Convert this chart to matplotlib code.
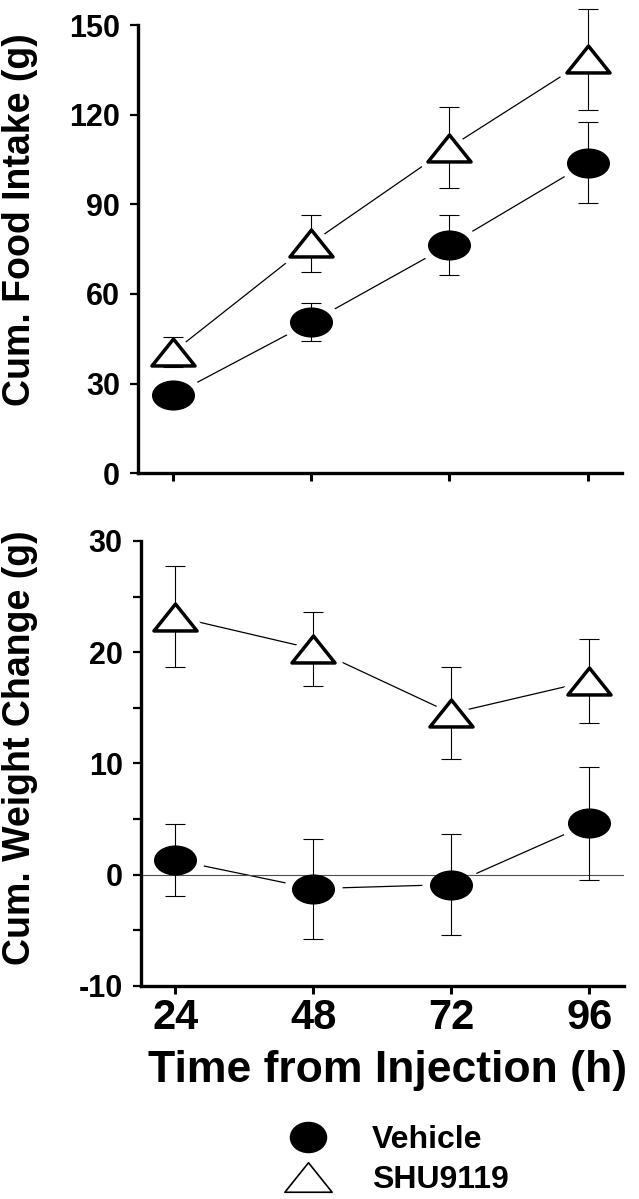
import numpy as np
import matplotlib.pyplot as plt
from matplotlib.path import Path
from matplotlib.lines import Line2D

plt.rcParams['font.family'] = ['Liberation Sans', 'DejaVu Sans']
plt.rcParams['font.weight'] = 'bold'
plt.rcParams['axes.unicode_minus'] = False

# data
hours = [24, 48, 72, 96]
food_vehicle = [26.1, 50.6, 76.4, 103.9]
food_vehicle_err = [3.0, 6.5, 10.0, 13.5]
food_shu = [40.5, 77.0, 109.0, 138.5]
food_shu_err = [5.0, 9.5, 13.5, 16.8]
weight_vehicle = [1.3, -1.27, -0.9, 4.6]
weight_vehicle_err = [3.2, 4.5, 4.5, 5.05]
weight_shu = [23.2, 20.3, 14.5, 17.4]
weight_shu_err = [4.55, 3.3, 4.15, 3.75]

# marker shapes: flat ellipse and flat triangle
circ = Path.unit_circle()
ellipse = Path(circ.vertices * [1.43, 1.0], circ.codes)
tri = Path([(0, 1), (-1.6, -1), (1.6, -1), (0, 1)],
           [Path.MOVETO, Path.LINETO, Path.LINETO, Path.CLOSEPOLY])
leg_ellipse = Path(circ.vertices * [1.19, 1.0], circ.codes)


def draw(ax, veh, veh_err, shu, shu_err):
    for y, e, mk, fc, mew in [(veh, veh_err, ellipse, 'black', 0),
                              (shu, shu_err, tri, 'white', 2.5)]:
        ax.plot(hours, y, color='black', lw=0.9, zorder=1)
        # white halo so lines stop short of the symbols
        ax.plot(hours, y, ls='none', marker=mk, ms=31, mfc='white',
                mec='white', mew=11, zorder=2)
        eb = ax.errorbar(hours, y, yerr=e, fmt='none', ecolor='black',
                         elinewidth=0.8, capsize=7, capthick=0.8, zorder=3)
        for art in eb.lines[1] + eb.lines[2]:
            art.set_clip_on(False)
        ax.plot(hours, y, ls='none', marker=mk, ms=31, mfc=fc,
                mec='black', mew=mew, zorder=4, clip_on=False)


def style(ax):
    for s in ['top', 'right']:
        ax.spines[s].set_visible(False)
    for s in ['left', 'bottom']:
        ax.spines[s].set_linewidth(2.4)
    ax.set_xlim(18, 102)
    ax.set_xticks(hours)
    ax.tick_params(axis='y', which='both', direction='out', length=6,
                   width=1.6, pad=7, labelsize=22)
    ax.tick_params(axis='x', direction='out', length=6, width=2.2,
                   pad=3, labelsize=30)


fig = plt.figure(figsize=(6.39, 11.99), dpi=100)
ax1 = fig.add_axes([0.2164, 0.6053, 0.7575, 0.3738])
ax2 = fig.add_axes([0.2202, 0.1779, 0.7563, 0.3709])

draw(ax1, food_vehicle, food_vehicle_err, food_shu, food_shu_err)
style(ax1)
ax1.set_ylim(0, 150)
ax1.set_yticks([0, 30, 60, 90, 120, 150])
ax1.set_xticklabels([])

ax2.axhline(0, color='0.3', lw=0.8, zorder=2.5)
draw(ax2, weight_vehicle, weight_vehicle_err, weight_shu, weight_shu_err)
style(ax2)
ax2.set_ylim(-10, 30)
ax2.set_yticks([-10, 0, 10, 20, 30])
ax2.set_yticks([-5, 5, 15, 25], minor=True)

fig.text(0.032, 0.8165, 'Cum. Food Intake (g)', rotation=90,
         ha='center', va='center', fontsize=27, fontweight='bold')
fig.text(0.032, 0.376, 'Cum. Weight Change (g)', rotation=90,
         ha='center', va='center', fontsize=27, fontweight='bold')
fig.text(0.606, 0.0976, 'Time from Injection (h)', ha='center',
         va='baseline', fontsize=32, fontweight='bold')

handles = [Line2D([], [], ls='none', marker=leg_ellipse, ms=27,
                  mfc='black', mec='black', mew=0),
           Line2D([], [], ls='none', marker=tri, ms=34, mfc='white',
                  mec='black', mew=1.2)]
fig.legend(handles, ['Vehicle', 'SHU9119'], loc='center left',
           bbox_to_anchor=(276 / 639, 1 - 1160 / 1199), frameon=False,
           handlelength=2.0, handletextpad=1.0,
           labelspacing=0.3, borderpad=0, borderaxespad=0,
           prop={'weight': 'bold', 'size': 23})

fig.savefig('out.png', dpi=100)
